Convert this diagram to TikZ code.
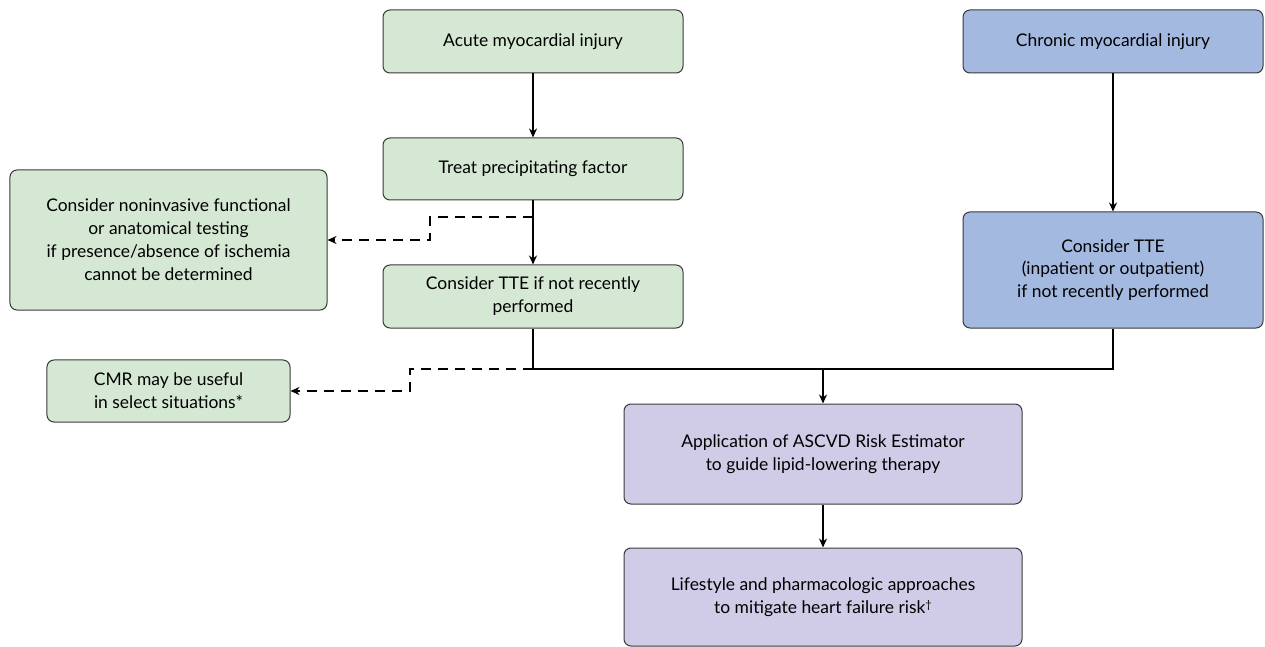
\documentclass[tikz,border=0pt]{standalone}
\usepackage{fontspec}
\setmainfont{Lato}
\usetikzlibrary{arrows.meta}
\definecolor{gfill}{HTML}{D5E8D4}
\definecolor{bfill}{HTML}{A3B9E0}
\definecolor{pfill}{HTML}{D0CBE6}
\definecolor{edge}{HTML}{3A3A3A}
\tikzset{
  box/.style={draw=edge, line width=1bp, rounded corners=7bp, align=center, inner sep=0pt,
    font=\fontsize{17.5}{23}\selectfont},
  gbox/.style={box, fill=gfill},
  bbox/.style={box, fill=bfill},
  pbox/.style={box, fill=pfill},
  conn/.style={line width=2bp, -{Stealth[length=9bp,width=8bp]}},
  dconn/.style={line width=2bp, dash pattern=on 10bp off 7bp, -{Stealth[length=9bp,width=8bp]}},
  plain/.style={line width=2bp}
}
\begin{document}
\begin{tikzpicture}[x=1bp,y=-1bp]
\useasboundingbox (0,0) rectangle (1265,647);
\node[gbox, minimum width=300bp, minimum height=63bp] (acute) at (533,41.5) {Acute myocardial injury};
\node[gbox, minimum width=300bp, minimum height=62bp] (treat) at (533,169) {Treat precipitating factor};
\node[gbox, minimum width=300bp, minimum height=63bp] (tteg) at (533,296.5) {Consider TTE if not recently\\performed};
\node[gbox, minimum width=317bp, minimum height=140bp] (nonin) at (168.5,240) {Consider noninvasive functional\\or anatomical testing\\if presence/absence of ischemia\\cannot be determined};
\node[gbox, minimum width=243bp, minimum height=62bp] (cmr) at (168.5,391) {CMR may be useful\\in select situations*};
\node[bbox, minimum width=300bp, minimum height=63bp] (chronic) at (1113,41.5) {Chronic myocardial injury};
\node[bbox, minimum width=300bp, minimum height=116bp] (tteb) at (1113,270) {Consider TTE\\(inpatient or outpatient)\\if not recently performed};
\node[pbox, minimum width=398bp, minimum height=100bp] (ascvd) at (823,454) {Application of ASCVD Risk Estimator\\to guide lipid-lowering therapy};
\node[pbox, minimum width=398bp, minimum height=98bp] (life) at (823,597) {Lifestyle and pharmacologic approaches\\to mitigate heart failure risk{\fontsize{11}{11}\selectfont\raisebox{5bp}{†}}};
\coordinate (d1) at (533,217);
\coordinate (j) at (533,369);
\coordinate (m) at (823,369);
\draw[conn] (acute) -- (treat);
\draw[conn] (treat) -- (tteg);
\draw[conn] (chronic) -- (tteb);
\draw[dconn] (d1) -- (430,217) -- (430,240) -- (nonin.east);
\draw[dconn] (j) -- (410,369) -- (410,391) -- (cmr.east);
\draw[plain] (tteg.south) -- (j) -- (1113,369) -- (tteb.south);
\draw[conn] (m) -- (ascvd.north);
\draw[conn] (ascvd) -- (life);
\end{tikzpicture}
\end{document}
